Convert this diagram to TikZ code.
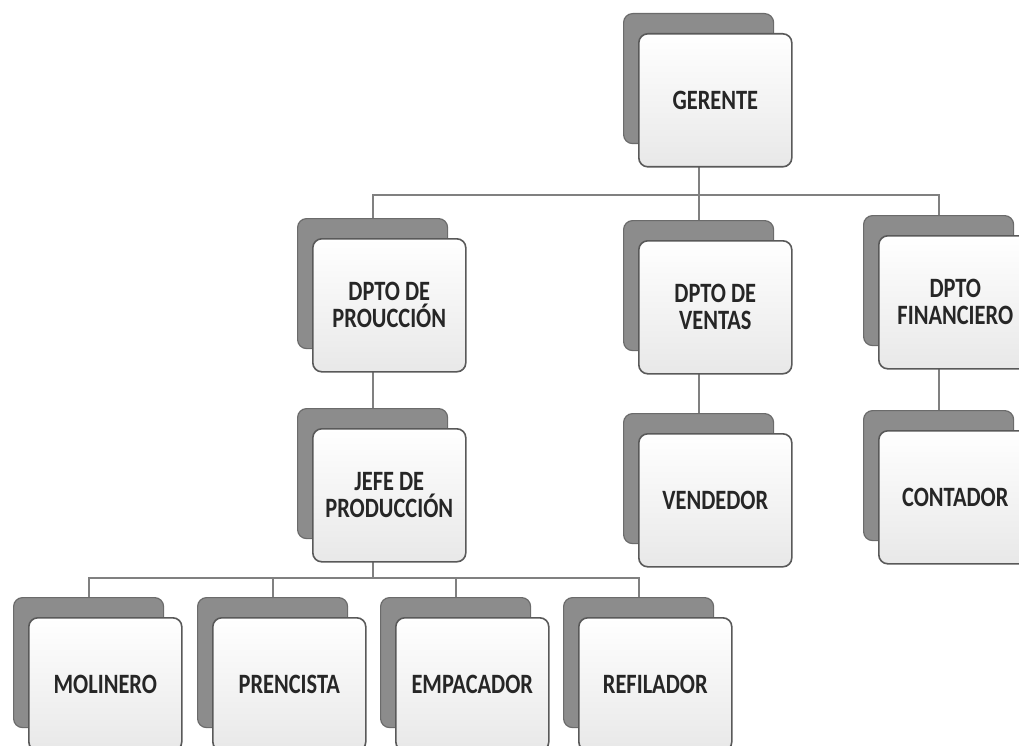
\documentclass[tikz,border=0pt]{standalone}
\usepackage{fontspec}
\newfontfamily\boxfont{Carlito}[FakeStretch=0.8]
\usetikzlibrary{backgrounds}
\tikzset{
  frontbox/.style={draw=black!65, line width=1.6pt, rounded corners=9pt,
    top color=white, bottom color=black!9,
    minimum width=153pt, minimum height=133pt, anchor=north west,
    align=center, inner sep=0pt, text=black!85,
    font=\boxfont\bfseries\fontsize{28}{27}\selectfont},
  backbox/.style={draw=black!58, line width=1.2pt, rounded corners=9pt,
    fill=black!45, minimum width=150pt, minimum height=130pt,
    anchor=north west, inner sep=0pt},
  link/.style={draw=black!50, line width=2pt},
}
\newcommand\orgunit[4]{%
  \node[backbox] (#1-b) at (#2-15,#3-20) {};
  \node[frontbox] (#1) at (#2,#3) {#4};
}
\begin{document}
\begin{tikzpicture}[x=1pt,y=-1pt]
\useasboundingbox (0,0) rectangle (1019,746);
\clip (0,0) rectangle (1019,746);
\orgunit{ger}{638}{33}{GERENTE}
\orgunit{prod}{312}{238}{DPTO DE\\PROUCCIÓN}
\orgunit{ven}{638}{240}{DPTO DE\\VENTAS}
\orgunit{fin}{878}{235}{DPTO\\FINANCIERO}
\orgunit{jefe}{312}{428}{JEFE DE\\PRODUCCIÓN}
\orgunit{vend}{638}{433}{VENDEDOR}
\orgunit{cont}{878}{430}{CONTADOR}
\orgunit{mol}{28}{617}{MOLINERO}
\orgunit{pren}{212}{617}{PRENCISTA}
\orgunit{emp}{395}{617}{EMPACADOR}
\orgunit{ref}{578}{617}{REFILADOR}
\coordinate (bus1) at (0,195);
\coordinate (bus2) at (0,578);
\begin{pgfonlayer}{background}
  \foreach \c in {prod,ven,fin}
    \draw[link] (ger-b.center) -- (ger-b.center |- bus1) -| (\c-b.center);
  \draw[link] (prod-b.center) -- (jefe-b.center);
  \draw[link] (ven-b.center) -- (vend-b.center);
  \draw[link] (fin-b.center) -- (cont-b.center);
  \foreach \c in {mol,pren,emp,ref}
    \draw[link] (jefe-b.center) -- (jefe-b.center |- bus2) -| (\c-b.center);
\end{pgfonlayer}
\end{tikzpicture}
\end{document}
